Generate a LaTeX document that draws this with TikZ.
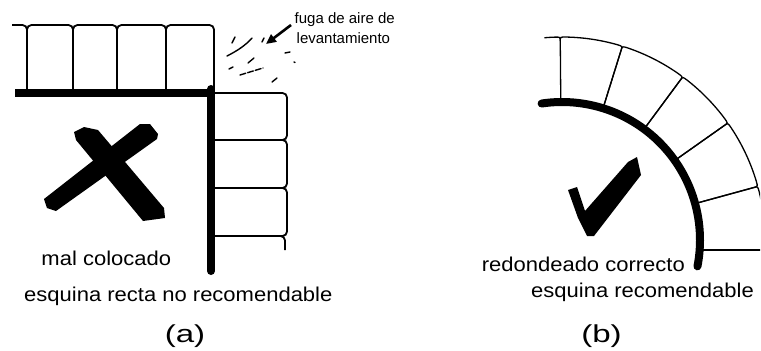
\documentclass[tikz,border=0pt]{standalone}
\usepackage{fontspec}
\setmainfont{Liberation Sans}
\newfontfamily\labfont[FakeStretch=1.1]{Liberation Sans}
\newfontfamily\capfont[FakeStretch=1.35]{Liberation Sans}
\usetikzlibrary{arrows.meta}
\begin{document}
\begin{tikzpicture}[x=1pt,y=-1pt,
  wall/.style={line width=8pt},
  lbrick/.style={line width=1.8pt, rounded corners=4.5pt},
  rbrick/.style={line width=1.3pt},
  gust/.style={line width=1.4pt, line cap=round},
  lbl/.style={inner sep=0pt, anchor=base west, font=\labfont\fontsize{20}{24}\selectfont},
  note/.style={inner sep=0pt, anchor=base west, font=\fontsize{15}{18}\selectfont},
  subcap/.style={inner sep=0pt, anchor=base, font=\capfont\fontsize{24.5}{28}\selectfont}]

\useasboundingbox (0,0) rectangle (761,351);

% ---------- (a) square corner ----------
% top row of bricks
\foreach \xa/\xb in {27/73, 73/117, 117/166, 166/214}
  \draw[lbrick] (\xa,93) -- (\xa,25) -- (\xb,25) -- (\xb,93);
\draw[lbrick] (12,25) -- (27,25) -- (27,40);
% side column of bricks
\foreach \ya/\yb in {93/140, 140/188, 188/236}
  \draw[lbrick] (215,\ya) -- (287,\ya) -- (287,\yb) -- (215,\yb);
\draw[lbrick] (270,236) -- (285,236) -- (285,250);
% the wall edge
\draw[wall] (15,93) -- (215,93);
\draw[wall, line cap=round] (211,89) -- (211,271);

% cross
\fill (74,132) -- (84,127) -- (98,130) -- (164,208) -- (165,218) -- (143,221) -- (76,140) -- cycle;
\fill (140,124) -- (150,124) -- (158,134) -- (157,139) -- (56,211) -- (47,208) -- (44,199) -- cycle;

% escaping air
\coordinate (gustTail) at (291,25);
\coordinate (gustTip) at (266,44);
\draw[line width=2.6pt, -{Triangle[length=10pt,width=9pt]}] (gustTail) -- (gustTip);
\draw[gust] (232,43) -- (235,37);
\draw[gust] (227,56) .. controls (237,51) and (246,45) .. (252,38);
\draw[gust] (262,42) -- (264,38);
\draw[gust] (285,53) -- (290,52);
\draw[gust] (294,62) -- (295,62.5);
\draw[gust] (229,69) -- (233,67);
\draw[gust] (248,63) -- (254,58);
\draw[gust, dash pattern=on 6pt off 2pt] (240,75) -- (263,68);
\draw[gust] (272,82) -- (277,78);

\node[note] (fuga) at (294.5,23.5) {fuga de aire de};
\node[note] (lev) at (296.5,43) {levantamiento};
\node[lbl] (mal) at (41.3,265.7) {mal colocado};
\node[lbl] (recta) at (24,301.5) {esquina recta no recomendable};
\node[subcap] (capA) at (185,342.5) {(a)};

% ---------- (b) rounded corner ----------
\begin{scope}
  \clip (470,0) rectangle (760,351);
  \begin{scope}[shift={(562,240)}, y=1pt]
    \foreach \a/\b in {90.5/72.7, 72.7/53.5, 53.5/35.2, 35.2/15.3}
      \draw[rbrick] (\a:138) -- (\a:199) .. controls (\a:203) .. ({\a-1.5}:203)
        arc[start angle={\a-1.5}, end angle={\b+1.5}, radius=203]
        .. controls (\b:203) .. (\b:199) -- (\b:138);
    % last brick, cut by the edge of the drawing
    \draw[rbrick] (15.3:138) -- (15.3:199) .. controls (15.3:203) .. (13.8:203)
      arc[start angle=13.8, end angle=0, radius=203];
    \draw[rbrick] (95:203) arc[start angle=95, end angle=92, radius=203]
      .. controls (90.5:203) .. (90.5:199);
    \draw[rbrick] (137,-10) -- (205,-10);
    \draw[wall, line cap=round] (98.5:138) arc[start angle=98.5, end angle=-11, radius=138];
  \end{scope}
\end{scope}

% tick
\fill (568,190) -- (577,187) -- (585,211) -- (628,162) -- (637,157) -- (641,175)
  -- (594,236) -- (587,236) -- (578,218) -- cycle;

\node[lbl] (redon) at (481.6,271) {redondeado correcto};
\node[lbl] (recom) at (531,297) {esquina recomendable};
\node[subcap] (capB) at (601.5,342.5) {(b)};
\end{tikzpicture}
\end{document}
